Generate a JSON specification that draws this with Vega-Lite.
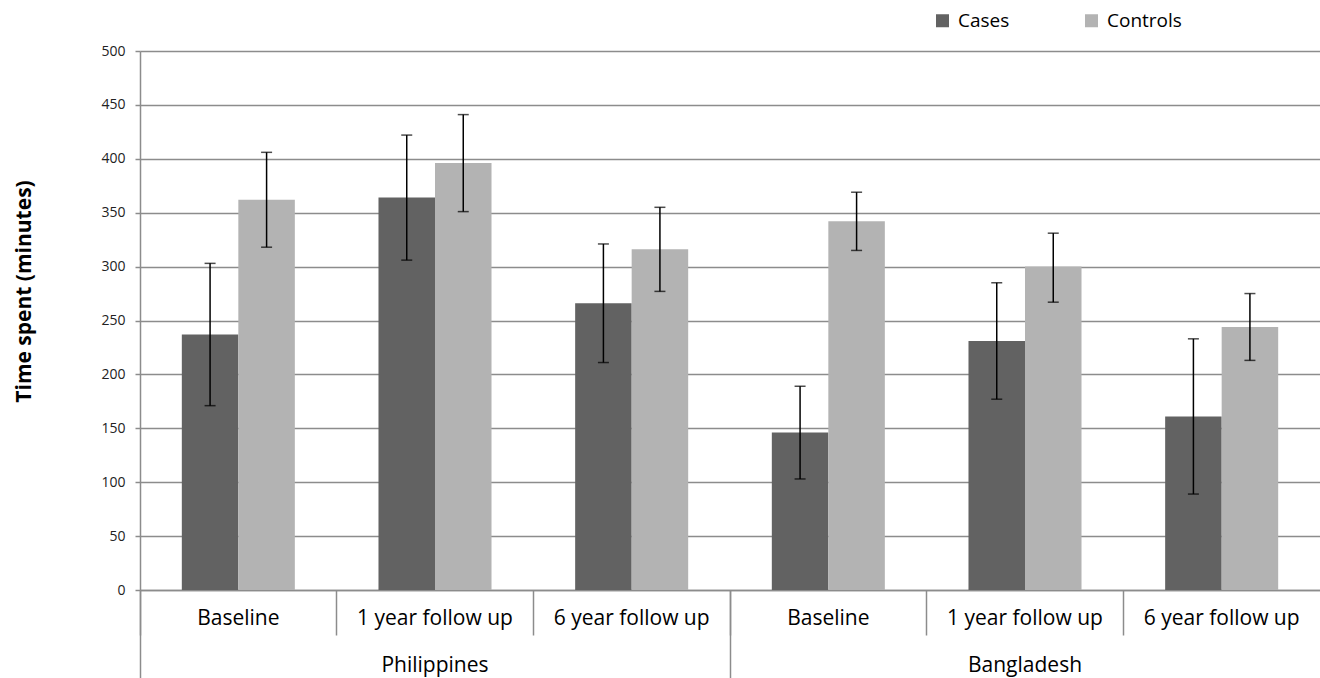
{
  "$schema": "https://vega.github.io/schema/vega-lite/v6.json",
  "width": 1180,
  "height": 539,
  "autosize": {"type": "none"},
  "padding": {"left": 140, "top": 51, "right": 0, "bottom": 88},
  "background": "white",
  "config": {"font": "Open Sans", "view": {"stroke": null}},
  "data": {"values": [
    {"group": "Philippines|Baseline", "country": "Philippines", "period": "Baseline", "series": "Cases", "value": 237, "lo": 171, "hi": 303},
    {"group": "Philippines|Baseline", "country": "Philippines", "period": "Baseline", "series": "Controls", "value": 362, "lo": 318, "hi": 406},
    {"group": "Philippines|1 year follow up", "country": "Philippines", "period": "1 year follow up", "series": "Cases", "value": 364, "lo": 306, "hi": 422},
    {"group": "Philippines|1 year follow up", "country": "Philippines", "period": "1 year follow up", "series": "Controls", "value": 396, "lo": 351, "hi": 441},
    {"group": "Philippines|6 year follow up", "country": "Philippines", "period": "6 year follow up", "series": "Cases", "value": 266, "lo": 211, "hi": 321},
    {"group": "Philippines|6 year follow up", "country": "Philippines", "period": "6 year follow up", "series": "Controls", "value": 316, "lo": 277, "hi": 355},
    {"group": "Bangladesh|Baseline", "country": "Bangladesh", "period": "Baseline", "series": "Cases", "value": 146, "lo": 103, "hi": 189},
    {"group": "Bangladesh|Baseline", "country": "Bangladesh", "period": "Baseline", "series": "Controls", "value": 342, "lo": 315, "hi": 369},
    {"group": "Bangladesh|1 year follow up", "country": "Bangladesh", "period": "1 year follow up", "series": "Cases", "value": 231, "lo": 177, "hi": 285},
    {"group": "Bangladesh|1 year follow up", "country": "Bangladesh", "period": "1 year follow up", "series": "Controls", "value": 300, "lo": 267, "hi": 331},
    {"group": "Bangladesh|6 year follow up", "country": "Bangladesh", "period": "6 year follow up", "series": "Cases", "value": 161, "lo": 89, "hi": 233},
    {"group": "Bangladesh|6 year follow up", "country": "Bangladesh", "period": "6 year follow up", "series": "Controls", "value": 244, "lo": 213, "hi": 275}
  ]},
  "layer": [
    {
      "mark": {"type": "bar"},
      "encoding": {
        "x": {
          "field": "group", "type": "nominal",
          "sort": ["Philippines|Baseline", "Philippines|1 year follow up", "Philippines|6 year follow up", "Bangladesh|Baseline", "Bangladesh|1 year follow up", "Bangladesh|6 year follow up"],
          "scale": {"paddingInner": 0, "paddingOuter": 0},
          "axis": {
            "orient": "bottom", "title": null, "bandPosition": 0,
            "tickSize": 45, "tickColor": "#8c8c8c", "tickWidth": 1.5,
            "domainColor": "#8c8c8c", "domainWidth": 1.5,
            "labelExpr": "split(datum.value, '|')[1]",
            "labelFontSize": 21, "labelColor": "#000", "labelPadding": -28,
            "labelAngle": 0, "labelFlush": false, "labelOverlap": false, "labelBound": false
          }
        },
        "xOffset": {"field": "series", "type": "nominal", "sort": ["Cases", "Controls"], "scale": {"paddingInner": 0, "paddingOuter": 0.74}},
        "y": {
          "field": "value", "type": "quantitative",
          "scale": {"domain": [0, 500], "nice": false},
          "axis": {
            "title": "Time spent (minutes)", "values": [0, 50, 100, 150, 200, 250, 300, 350, 400, 450, 500],
            "grid": true, "gridColor": "#8c8c8c", "gridWidth": 1.5,
            "domainColor": "#8c8c8c", "domainWidth": 1.5,
            "tickSize": 5, "tickColor": "#8c8c8c", "tickWidth": 1.5,
            "labelFontSize": 14, "labelColor": "#222", "labelPadding": 10,
            "titleFontSize": 21, "titleFontWeight": "bold", "titleColor": "#000", "titlePadding": 66, "titleY": 240
          }
        },
        "color": {
          "field": "series", "type": "nominal",
          "scale": {"domain": ["Cases", "Controls"], "range": ["#626262", "#b3b3b3"]},
          "legend": {
            "orient": "none", "legendX": 793, "legendY": -40, "direction": "horizontal",
            "title": null, "symbolType": "square", "symbolSize": 169, "symbolStrokeWidth": 0,
            "labelFontSize": 19, "labelColor": "#000", "columnPadding": 72, "labelOffset": 6
          }
        }
      }
    },
    {
      "mark": {"type": "rule", "color": "#000", "strokeWidth": 1.5},
      "encoding": {
        "x": {
          "field": "group", "type": "nominal",
          "sort": ["Philippines|Baseline", "Philippines|1 year follow up", "Philippines|6 year follow up", "Bangladesh|Baseline", "Bangladesh|1 year follow up", "Bangladesh|6 year follow up"],
          "axis": {
            "orient": "bottom", "title": null, "bandPosition": 0, "labelOffset": 196.667,
            "values": ["Philippines|Baseline", "Bangladesh|Baseline"],
            "tickSize": 88, "tickColor": "#8c8c8c", "tickWidth": 1.5, "domain": false,
            "labelExpr": "split(datum.value, '|')[0]",
            "labelFontSize": 21, "labelColor": "#000", "labelPadding": -24,
            "labelAngle": 0, "labelFlush": false, "labelOverlap": false, "labelBound": false
          }
        },
        "xOffset": {"field": "series", "type": "nominal", "sort": ["Cases", "Controls"]},
        "y": {"field": "lo", "type": "quantitative", "title": "Time spent (minutes)"},
        "y2": {"field": "hi"}
      }
    },
    {
      "mark": {"type": "tick", "color": "#000", "size": 11, "thickness": 1.5},
      "encoding": {
        "x": {"field": "group", "type": "nominal", "sort": ["Philippines|Baseline", "Philippines|1 year follow up", "Philippines|6 year follow up", "Bangladesh|Baseline", "Bangladesh|1 year follow up", "Bangladesh|6 year follow up"], "axis": null},
        "xOffset": {"field": "series", "type": "nominal", "sort": ["Cases", "Controls"]},
        "y": {"field": "lo", "type": "quantitative", "title": "Time spent (minutes)"}
      }
    },
    {
      "mark": {"type": "tick", "color": "#000", "size": 11, "thickness": 1.5},
      "encoding": {
        "x": {"field": "group", "type": "nominal", "sort": ["Philippines|Baseline", "Philippines|1 year follow up", "Philippines|6 year follow up", "Bangladesh|Baseline", "Bangladesh|1 year follow up", "Bangladesh|6 year follow up"], "axis": null},
        "xOffset": {"field": "series", "type": "nominal", "sort": ["Cases", "Controls"]},
        "y": {"field": "hi", "type": "quantitative", "title": "Time spent (minutes)"}
      }
    }
  ],
  "resolve": {"axis": {"x": "independent"}}
}
